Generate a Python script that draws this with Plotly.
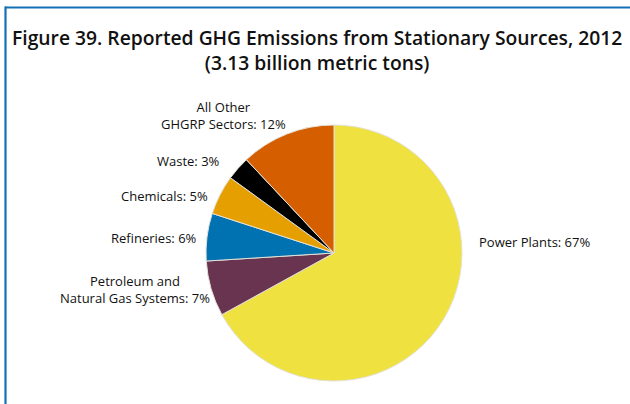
import plotly.graph_objects as go

# Data
categories = ["Power Plants", "Petroleum and<br>Natural Gas Systems", "Refineries",
              "Chemicals", "Waste", "All Other<br>GHGRP Sectors"]
shares = [67, 7, 6, 5, 3, 12]
colors = ["#EFE13F", "#69344F", "#0072B2", "#E69F00", "#000000", "#D55E00"]
title_lines = ["Figure 39. Reported GHG Emissions from Stationary Sources, 2012",
               "(3.13 billion metric tons)"]

W, H = 630, 404

fig = go.Figure()
fig.add_trace(go.Pie(
    labels=categories,
    values=shares,
    sort=False,
    direction="clockwise",
    rotation=0,
    marker=dict(colors=colors, line=dict(color="#e4e1d6", width=1)),
    textinfo="none",
    hoverinfo="label+percent",
    showlegend=False,
    domain=dict(x=[206 / W, 462 / W], y=[1 - 381 / H, 1 - 125 / H]),
))

font = dict(family="Open Sans, Noto Sans, sans-serif", size=13, color="#111111")

# label anchor positions (pixels) and alignment
label_pos = [
    (477, 242, "left", "left"),
    (135, 289, "center", "center"),
    (199, 238, "right", "right"),
    (210, 196, "right", "right"),
    (222, 161, "right", "right"),
    (223, 115, "center", "center"),
]
for cat, val, (px, py, xa, al) in zip(categories, shares, label_pos):
    fig.add_annotation(
        x=px / W, y=1 - py / H, xref="paper", yref="paper",
        text=f"{cat}: {val}%", showarrow=False,
        xanchor=xa, yanchor="middle", align=al, font=font,
    )

# Title (single two-line annotation)
title_font = dict(family="Open Sans, Noto Sans, sans-serif", size=19.3, weight=600,
                  color="#111111")
fig.add_annotation(x=317 / W, y=1 - 50 / H, xref="paper", yref="paper",
                   text="<br>".join(title_lines), showarrow=False,
                   xanchor="center", yanchor="middle", align="center",
                   font=title_font)

# Frame lines
frame_color = "#1470B4"
fig.add_shape(type="line", xref="paper", yref="paper",
              x0=5 / W, x1=1, y0=1 - 7.5 / H, y1=1 - 7.5 / H,
              line=dict(color=frame_color, width=2.2))
fig.add_shape(type="line", xref="paper", yref="paper",
              x0=5.5 / W, x1=5.5 / W, y0=1 - 6.5 / H, y1=0,
              line=dict(color=frame_color, width=2.2))

fig.update_layout(
    width=W, height=H,
    margin=dict(l=0, r=0, t=0, b=0),
    paper_bgcolor="white",
    plot_bgcolor="white",
)

fig.write_html("out.html")
